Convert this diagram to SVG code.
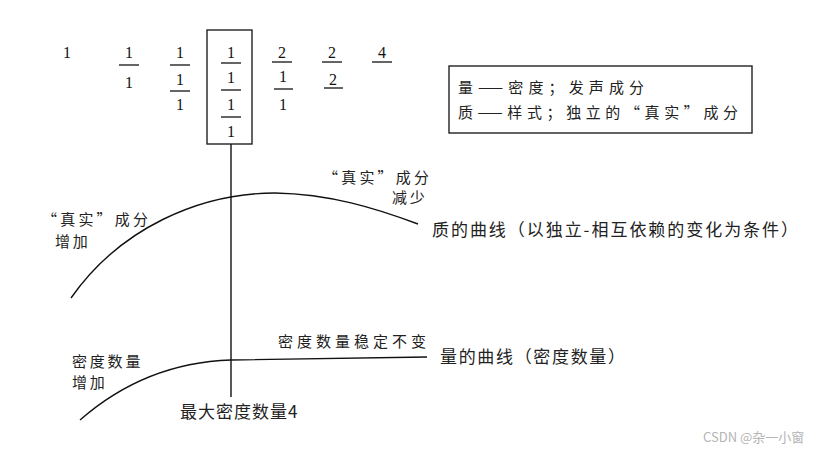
<svg xmlns="http://www.w3.org/2000/svg" width="831" height="454" viewBox="0 0 831 454">
<style>
.d{font-family:"Liberation Serif",serif;font-size:16px;fill:#111;text-anchor:middle}
.fl{stroke:#111;stroke-width:1.3}
.cn{font-family:"Noto Sans CJK SC",sans-serif;font-size:15px;fill:#222;letter-spacing:2.8px}
.ct{font-family:"Noto Sans CJK SC",sans-serif;font-size:15px;fill:#222}
.cb{font-family:"Noto Sans CJK SC",sans-serif;font-size:17px;fill:#222;letter-spacing:1.5px}
.cbt{font-family:"Noto Sans CJK SC",sans-serif;font-size:17px;fill:#222}
.ln{fill:none;stroke:#111;stroke-width:1.4}
.box{fill:none;stroke:#222;stroke-width:1.4}
</style>
<rect width="831" height="454" fill="#fff"/>
<g id="seq1"><text class="d" x="67" y="58">1</text></g>
<g id="seq2"><text class="d" x="129" y="58">1</text><line class="fl" x1="119" y1="65" x2="139" y2="65"/><text class="d" x="129" y="88">1</text></g>
<g id="seq3"><text class="d" x="180" y="58">1</text><line class="fl" x1="170" y1="65" x2="190" y2="65"/><text class="d" x="180" y="85">1</text><line class="fl" x1="170" y1="91" x2="190" y2="91"/><text class="d" x="180" y="110">1</text></g>
<g id="seq4"><rect class="box" x="207" y="30" width="45" height="114"/><text class="d" x="231" y="58">1</text><line class="fl" x1="221" y1="63" x2="241" y2="63"/><text class="d" x="231" y="83">1</text><line class="fl" x1="221" y1="90" x2="241" y2="90"/><text class="d" x="231" y="110">1</text><line class="fl" x1="221" y1="117" x2="241" y2="117"/><text class="d" x="231" y="137">1</text></g>
<g id="seq5"><text class="d" x="282" y="58">2</text><line class="fl" x1="272" y1="62" x2="292" y2="62"/><text class="d" x="283" y="82">1</text><line class="fl" x1="274" y1="89" x2="293" y2="89"/><text class="d" x="283" y="110">1</text></g>
<g id="seq6"><text class="d" x="332" y="58">2</text><line class="fl" x1="322" y1="62" x2="342" y2="62"/><text class="d" x="333" y="85">2</text><line class="fl" x1="324" y1="88" x2="343" y2="88"/></g>
<g id="seq7"><text class="d" x="382" y="58">4</text><line class="fl" x1="372" y1="62" x2="392" y2="62"/></g>
<g id="legend"><rect class="box" x="449" y="66" width="303" height="67"/><text class="ct" x="458" y="93" textLength="186" lengthAdjust="spacing">量——密度；发声成分</text><text class="ct" x="458" y="118" textLength="280" lengthAdjust="spacing">质——样式；独立的“真实”成分</text></g>
<g id="connectors">
<line class="ln" x1="231" y1="144" x2="231" y2="397"/>
<path class="ln" d="M71,298 C120,228 200,193 275,193 C330,194 375,208 418,224"/>
<path class="ln" d="M80,420 C120,385 170,362 231,360 L427,357"/>
</g>
<g id="quality-curve-labels">
<text class="ct" x="42" y="225" textLength="106" lengthAdjust="spacing">“真实”成分</text>
<text class="cn" x="55" y="247">增加</text>
<text class="ct" x="323" y="183" textLength="106" lengthAdjust="spacing">“真实”成分</text>
<text class="cn" x="392" y="203">减少</text>
<text class="cbt" x="432" y="236" textLength="366" lengthAdjust="spacing">质的曲线（以独立-相互依赖的变化为条件）</text>
</g>
<g id="quantity-curve-labels">
<text class="ct" x="278" y="347" textLength="148" lengthAdjust="spacing">密度数量稳定不变</text>
<text class="cn" x="72" y="367">密度数量</text>
<text class="cn" x="72" y="388">增加</text>
<text class="cb" x="180" y="418" style="letter-spacing:1px">最大密度数量4</text>
<text class="cbt" x="440" y="363" textLength="185" lengthAdjust="spacing">量的曲线（密度数量）</text>
</g>
<text x="703" y="442" style="font-family:'Noto Sans CJK SC',sans-serif;font-size:13px;fill:#b4b4b4">CSDN @杂一小窗</text>
</svg>
